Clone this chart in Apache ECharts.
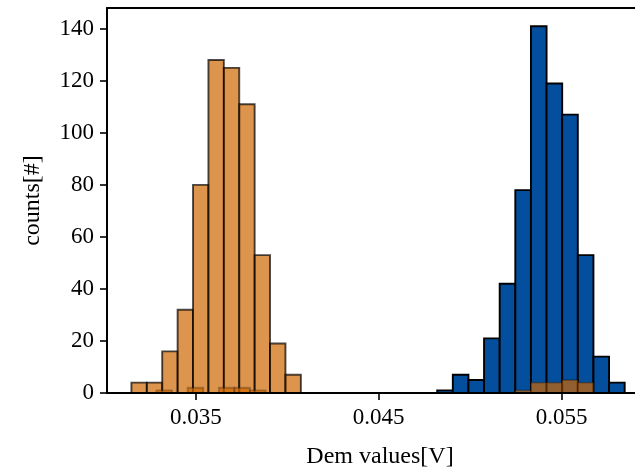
<!DOCTYPE html>
<html>
<head>
<meta charset="utf-8">
<script src="https://cdn.jsdelivr.net/npm/echarts@6/dist/echarts.min.js"></script>
<style>
  html, body { margin: 0; padding: 0; background: #fff; }
  #chart { width: 635px; height: 474px; }
</style>
</head>
<body>
<div id="chart"></div>
<script>
// histogram bins: first left edge, bin width (V), counts per bin
var orangeStart = 0.031483;
var orangeWidth = 0.000842;
var orangeCounts = [4, 4, 16, 32, 80, 128, 125, 111, 53, 19, 7];

var blueStart = 0.048197;
var blueWidth = 0.000854;
var blueCounts = [1, 7, 5, 21, 42, 78, 141, 119, 107, 53, 14, 4];

// second orange histogram, mostly empty bins between the two peaks
var orange2Start = 0.032851;
var orange2Width = 0.000853;
var orange2Counts = [1, 0, 2, 0, 2, 2, 1,
  0, 0, 0, 0, 0, 0, 0, 0, 0, 0, 0, 0, 0, 0, 0, 0,
  1, 4, 4, 5, 4];

var xTicks = [0.035, 0.045, 0.055];
var yTicks = [0, 20, 40, 60, 80, 100, 120, 140];

// the right spine is cut off in the original, so the visible window ends here
var xMin = 0.030149;
var xMax = 0.059009;

function toBins(start, width, counts) {
  return counts.map(function (c, i) {
    return [start + i * width, start + (i + 1) * width, c];
  });
}

function histItem(fill, stroke) {
  return function (params, api) {
    var p0 = api.coord([api.value(0), api.value(2)]);
    var p1 = api.coord([api.value(1), 0]);
    return {
      type: 'rect',
      shape: { x: p0[0], y: p0[1], width: p1[0] - p0[0], height: p1[1] - p0[1] },
      style: { fill: fill, stroke: stroke, lineWidth: 1.9 }
    };
  };
}

var font = "'Liberation Serif', 'DejaVu Serif', serif";
var axisColor = '#000';

var chart = echarts.init(document.getElementById('chart'));
chart.setOption({
  animation: false,
  textStyle: { fontFamily: font, color: '#000' },
  grid: { left: 107, top: 8, right: 0, height: 387 },
  xAxis: [
    {
      type: 'value',
      min: xMin,
      max: xMax,
      z: 10,
      name: 'Dem values[V]',
      nameLocation: 'middle',
      nameGap: 52,
      nameTextStyle: { fontFamily: font, fontSize: 24, color: '#000', padding: [0, 0, 0, 18] },
      axisLine: { show: true, onZero: false, lineStyle: { color: axisColor, width: 2 } },
      axisTick: { show: true, length: 7, customValues: xTicks, lineStyle: { color: axisColor, width: 1.6 } },
      axisLabel: {
        customValues: xTicks, margin: 13,
        fontFamily: font, fontSize: 23, color: '#000',
        formatter: function (v) { return v.toFixed(3); }
      },
      splitLine: { show: false }
    },
    {
      // top spine
      type: 'value',
      position: 'top',
      min: xMin,
      max: xMax,
      z: 10,
      axisLine: { show: true, onZero: false, lineStyle: { color: axisColor, width: 2 } },
      axisTick: { show: false },
      axisLabel: { show: false },
      splitLine: { show: false }
    }
  ],
  yAxis: {
    type: 'value',
    min: 0,
    max: 148,
    z: 10,
    name: 'counts[#]',
    nameLocation: 'middle',
    nameRotate: 90,
    nameGap: 62,
    nameTextStyle: { fontFamily: font, fontSize: 24, color: '#000' },
    axisLine: { show: true, lineStyle: { color: axisColor, width: 2 } },
    axisTick: { show: true, length: 7, customValues: yTicks, lineStyle: { color: axisColor, width: 1.6 } },
    axisLabel: {
      customValues: yTicks, margin: 13,
      fontFamily: font, fontSize: 23, color: '#000'
    },
    splitLine: { show: false }
  },
  series: [
    {
      type: 'custom',
      name: 'blue',
      renderItem: histItem('#034f9d', '#000'),
      encode: { x: [0, 1], y: 2 },
      data: toBins(blueStart, blueWidth, blueCounts)
    },
    {
      type: 'custom',
      name: 'orange',
      renderItem: histItem('rgba(206,103,2,0.7)', 'rgba(0,0,0,0.7)'),
      encode: { x: [0, 1], y: 2 },
      data: toBins(orangeStart, orangeWidth, orangeCounts)
    },
    {
      type: 'custom',
      name: 'orange2',
      renderItem: histItem('rgba(206,103,2,0.7)', 'rgba(0,0,0,0.25)'),
      encode: { x: [0, 1], y: 2 },
      data: toBins(orange2Start, orange2Width, orange2Counts)
    }
  ]
});
</script>
</body>
</html>
